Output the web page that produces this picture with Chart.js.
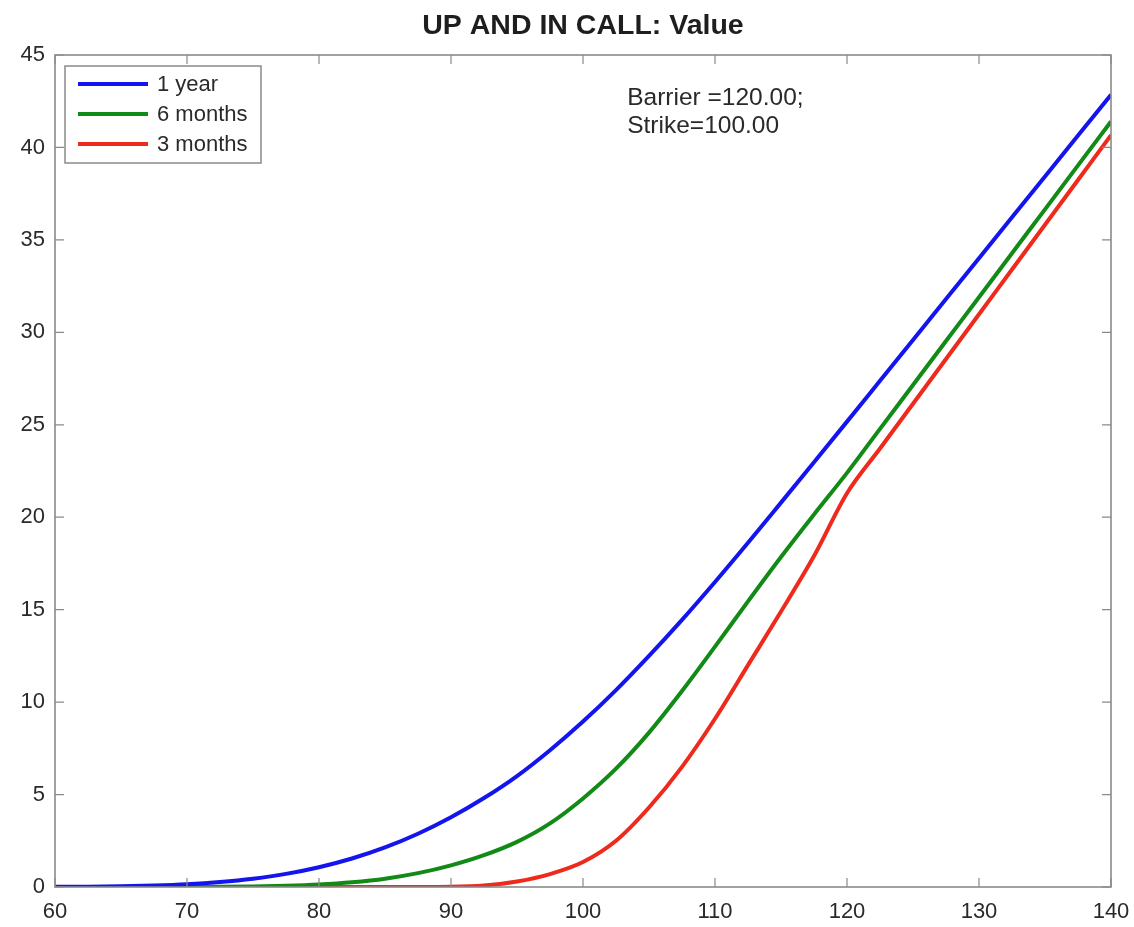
<!DOCTYPE html>
<html>
<head>
<meta charset="utf-8">
<script src="https://cdn.jsdelivr.net/npm/chart.js@4/dist/chart.umd.min.js"></script>
<style>
  html, body { margin: 0; padding: 0; background: #fff; }
  #wrap { width: 1134px; height: 927px; }
</style>
</head>
<body>
<div id="wrap"><canvas id="myChart"></canvas></div>
<script>
// spot price (x axis)
const spot = [60, 62.5, 65, 67.5, 70, 72.5, 75, 77.5, 80, 82.5, 85, 87.5, 90, 92.5, 95, 97.5,
  100, 102.5, 105, 107.5, 110, 112.5, 115, 117.5, 120, 122.5, 125, 127.5, 130, 132.5, 135, 137.5, 140];

// option value per maturity
const oneYear = [0.01, 0.02, 0.04, 0.08, 0.15, 0.27, 0.45, 0.71, 1.07, 1.54, 2.14, 2.88, 3.77, 4.81, 6.0, 7.4,
  8.95, 10.65, 12.5, 14.45, 16.5, 18.62, 20.79, 22.97, 25.17, 27.38, 29.59, 31.8, 34.01, 36.22, 38.43, 40.64, 42.85];
const sixMonths = [0, 0, 0, 0, 0.005, 0.01, 0.03, 0.07, 0.14, 0.26, 0.45, 0.75, 1.17, 1.72, 2.44, 3.44,
  4.79, 6.4, 8.35, 10.6, 13.0, 15.45, 17.85, 20.15, 22.4, 24.78, 27.15, 29.53, 31.9, 34.28, 36.65, 39.03, 41.4];
const threeMonths = [0, 0, 0, 0, 0, 0, 0, 0, 0, 0, 0, 0, 0.01, 0.08, 0.3, 0.7,
  1.35, 2.5, 4.3, 6.5, 9.1, 12.0, 14.9, 17.9, 21.3, 23.72, 26.14, 28.56, 30.98, 33.4, 35.82, 38.24, 40.66];

const xTicks = [60, 70, 80, 90, 100, 110, 120, 130, 140];
const yTicks = [0, 5, 10, 15, 20, 25, 30, 35, 40, 45];

const seriesNames = ["1 year", "6 months", "3 months"];
const seriesColors = ["#1414ee", "#128a16", "#ee2a1c"];
const chartTitle = "UP AND IN CALL: Value";
const noteLines = ["Barrier =120.00;", "Strike=100.00"];

const FONT = "'Liberation Sans', Arial, Helvetica, sans-serif";

const toPoints = (vals) => spot.map((s, i) => ({ x: s, y: vals[i] }));

// box round the plot with inward tick marks, like the original
const boxPlugin = {
  id: "boxTicks",
  afterDraw(chart) {
    const { ctx, chartArea: a, scales } = chart;
    ctx.save();
    ctx.strokeStyle = "#8a8a8a";
    ctx.lineWidth = 1.6;
    ctx.strokeRect(a.left, a.top, a.right - a.left, a.bottom - a.top);
    ctx.lineWidth = 1.2;
    ctx.beginPath();
    xTicks.forEach((v) => {
      const px = scales.x.getPixelForValue(v);
      ctx.moveTo(px, a.bottom); ctx.lineTo(px, a.bottom - 9);
      ctx.moveTo(px, a.top); ctx.lineTo(px, a.top + 9);
    });
    yTicks.forEach((v) => {
      const py = scales.y.getPixelForValue(v);
      ctx.moveTo(a.left, py); ctx.lineTo(a.left + 9, py);
      ctx.moveTo(a.right, py); ctx.lineTo(a.right - 9, py);
    });
    ctx.stroke();

    // title centred over the plot area
    ctx.font = "bold 28.5px " + FONT;
    ctx.fillStyle = "#1e1e1e";
    ctx.textAlign = "center";
    ctx.textBaseline = "middle";
    ctx.fillText(chartTitle, (a.left + a.right) / 2, 26);
    ctx.restore();
  },
};

// legend drawn inside the top-left corner
const insideLegend = {
  id: "insideLegend",
  afterDatasetsDraw(chart) {
    const { ctx, chartArea: a } = chart;
    const left = a.left + 10, top = a.top + 11, w = 196, h = 97;
    ctx.save();
    ctx.fillStyle = "#fff";
    ctx.fillRect(left, top, w, h);
    ctx.strokeStyle = "#8a8a8a";
    ctx.lineWidth = 1.5;
    ctx.strokeRect(left, top, w, h);
    ctx.font = "22px " + FONT;
    ctx.textBaseline = "middle";
    chart.data.datasets.forEach((ds, i) => {
      const y = top + 18 + i * 30;
      ctx.strokeStyle = ds.borderColor;
      ctx.lineWidth = 4;
      ctx.beginPath();
      ctx.moveTo(left + 13, y);
      ctx.lineTo(left + 83, y);
      ctx.stroke();
      ctx.fillStyle = "#2a2a2a";
      ctx.fillText(ds.label, left + 92, y + 1);
    });
    ctx.restore();
  },
};

// text note placed in data coordinates
const notePlugin = {
  id: "note",
  afterDatasetsDraw(chart) {
    const { ctx, scales } = chart;
    const x = scales.x.getPixelForValue(103.35);
    const y = scales.y.getPixelForValue(42.68);
    ctx.save();
    ctx.font = "24.5px " + FONT;
    ctx.fillStyle = "#2a2a2a";
    ctx.textBaseline = "middle";
    noteLines.forEach((t, i) => ctx.fillText(t, x, y + i * 28));
    ctx.restore();
  },
};

const myChart = document.getElementById("myChart");

const pintarGrafica = () => {
  new Chart(myChart, {
    type: "line",
    data: {
      datasets: [oneYear, sixMonths, threeMonths].map((vals, i) => ({
        label: seriesNames[i],
        data: toPoints(vals),
        borderColor: seriesColors[i],
        borderWidth: 4,
        pointRadius: 0,
        fill: false,
        cubicInterpolationMode: "monotone",
      })),
    },
    options: {
      responsive: true,
      maintainAspectRatio: false,
      animation: false,
      layout: { padding: { left: 0, right: 23, top: 55, bottom: 0 } },
      plugins: {
        legend: { display: false },
        tooltip: { enabled: false },
        title: { display: false },
      },
      scales: {
        x: {
          type: "linear",
          min: 60,
          max: 140,
          afterBuildTicks: (s) => { s.ticks = xTicks.map((v) => ({ value: v })); },
          afterFit: (s) => { s.height = 40; s.paddingRight = 0; s.paddingLeft = 0; },
          grid: { display: false, drawTicks: false },
          border: { display: false },
          ticks: { color: "#2a2a2a", padding: 12, maxRotation: 0, font: { family: FONT, size: 22 } },
        },
        y: {
          min: 0,
          max: 45,
          afterBuildTicks: (s) => { s.ticks = yTicks.map((v) => ({ value: v })); },
          afterFit: (s) => { s.width = 55; },
          grid: { display: false, drawTicks: false },
          border: { display: false },
          ticks: { color: "#2a2a2a", padding: 10, font: { family: FONT, size: 22 } },
        },
      },
    },
    plugins: [boxPlugin, insideLegend, notePlugin],
  });
};

window.addEventListener("load", pintarGrafica);
</script>
</body>
</html>
